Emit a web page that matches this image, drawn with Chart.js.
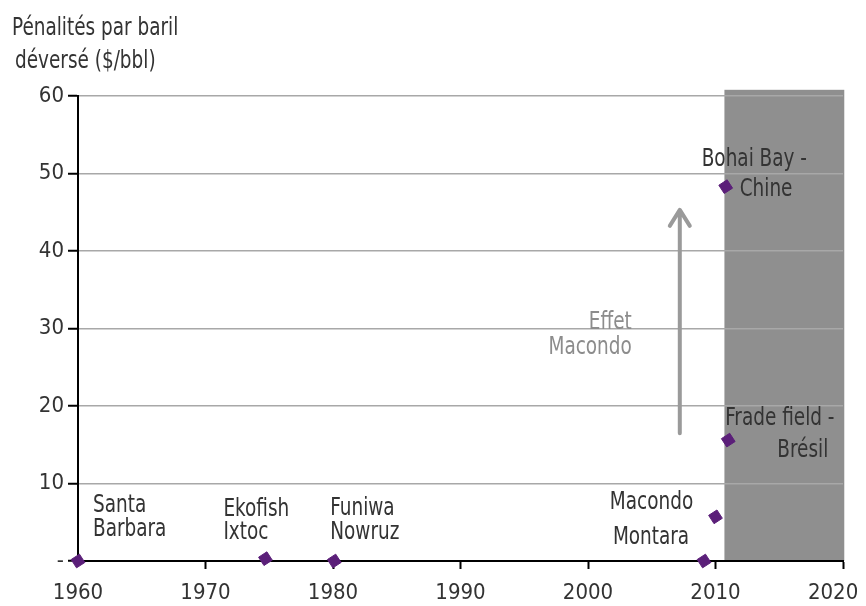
<!DOCTYPE html>
<html>
<head>
<meta charset="utf-8">
<title>Pénalités par baril déversé</title>
<script src="https://cdn.jsdelivr.net/npm/chart.js@4/dist/chart.umd.min.js"></script>
<style>
  html, body { margin: 0; padding: 0; background: #fff; }
  canvas { display: block; }
</style>
</head>
<body>
<canvas id="penalty" width="866" height="606"></canvas>
<script>
// spills and the penalty paid per barrel spilled ($/bbl)
var spills    = ['Santa Barbara', 'Ekofish / Ixtoc', 'Funiwa / Nowruz', 'Montara', 'Macondo', 'Frade field - Brésil', 'Bohai Bay - Chine'];
var years     = [1960, 1974.7, 1980.1, 2009.1, 2010, 2011, 2010.8];
var penalties = [0, 0.3, 0, 0, 5.7, 15.6, 48.3];

var xTicks = [1960, 1970, 1980, 1990, 2000, 2010, 2020];
var yTicks = [0, 10, 20, 30, 40, 50, 60];

// post-Macondo period and the "Effet Macondo" arrow
var shadeFrom = 2010.7, shadeTo = 2020.1, shadeTop = 60.8;
var effetYear = 2007.2, effetFrom = 16.5, effetTo = 45.3;

var titleLines = ['Pénalités par baril', 'déversé ($/bbl)'];
var effetLines = ['Effet', 'Macondo'];

var FONT = '"DejaVu Sans Condensed", "DejaVu Sans", sans-serif';
var TEXT = '#333333';
var SQUEEZE = 0.82;   // horizontal squeeze for the free text, narrow-face look

// where each spill's name sits around its marker
var labelLayout = [
  [{ t: 'Santa', dx: 15, dy: -56, a: 'left' }, { t: 'Barbara', dx: 15, dy: -32, a: 'left' }],
  [{ t: 'Ekofish', dx: -42, dy: -49, a: 'left' }, { t: 'Ixtoc', dx: -42, dy: -26, a: 'left' }],
  [{ t: 'Funiwa', dx: -4, dy: -53, a: 'left' }, { t: 'Nowruz', dx: -4, dy: -29, a: 'left' }],
  [{ t: 'Montara', dx: -53, dy: -24, a: 'center' }],
  [{ t: 'Macondo', dx: -64, dy: -14, a: 'center' }],
  [{ t: 'Frade field -', dx: -3, dy: -22, a: 'left' }, { t: 'Brésil', dx: 100, dy: 10, a: 'right' }],
  [{ t: 'Bohai Bay -', dx: -24, dy: -27, a: 'left' }, { t: 'Chine', dx: 14, dy: 3, a: 'left' }]
];

function narrowText(ctx, s, x, y, align) {
  ctx.save();
  ctx.translate(x, y);
  ctx.scale(SQUEEZE, 1);
  ctx.textAlign = align;
  ctx.fillText(s, 0, 0);
  ctx.restore();
}

var decor = {
  id: 'decor',
  beforeDraw: function (chart) {
    var ctx = chart.ctx, x = chart.scales.x, y = chart.scales.y;
    var l = x.getPixelForValue(shadeFrom), r = x.getPixelForValue(shadeTo);
    var t = y.getPixelForValue(shadeTop), b = y.getPixelForValue(0);
    ctx.save();
    ctx.fillStyle = '#8f8f8f';
    ctx.fillRect(l, t, r - l, b - t);
    ctx.restore();
  },
  beforeDatasetsDraw: function (chart) {
    var ctx = chart.ctx, x = chart.scales.x, y = chart.scales.y;
    var ax = x.getPixelForValue(effetYear);
    var y0 = y.getPixelForValue(effetFrom), y1 = y.getPixelForValue(effetTo);
    ctx.save();
    ctx.strokeStyle = '#9a9a9a';
    ctx.lineWidth = 4;
    ctx.lineCap = 'round';
    ctx.lineJoin = 'round';
    ctx.beginPath();
    ctx.moveTo(ax, y0);
    ctx.lineTo(ax, y1);
    ctx.moveTo(ax - 10, y1 + 16);
    ctx.lineTo(ax, y1);
    ctx.lineTo(ax + 10, y1 + 16);
    ctx.stroke();

    ctx.font = '25px ' + FONT;
    ctx.fillStyle = '#8c8c8c';
    ctx.textBaseline = 'middle';
    var my = y.getPixelForValue(30);
    narrowText(ctx, effetLines[0], ax - 48, my - 6, 'right');
    narrowText(ctx, effetLines[1], ax - 48, my + 19, 'right');
    ctx.restore();
  },
  afterDatasetsDraw: function (chart) {
    var ctx = chart.ctx;
    var pts = chart.getDatasetMeta(0).data;
    ctx.save();
    ctx.font = '25px ' + FONT;
    ctx.fillStyle = TEXT;
    ctx.textBaseline = 'middle';
    labelLayout.forEach(function (lines, i) {
      var p = pts[i];
      lines.forEach(function (ln) {
        narrowText(ctx, ln.t, p.x + ln.dx, p.y + ln.dy, ln.a);
      });
    });

    ctx.textBaseline = 'alphabetic';
    narrowText(ctx, titleLines[0], 12, 35, 'left');
    narrowText(ctx, titleLines[1], 15, 68, 'left');
    ctx.restore();
  }
};

new Chart(document.getElementById('penalty').getContext('2d'), {
  type: 'scatter',
  data: {
    datasets: [{
      label: 'Pénalités',
      data: years.map(function (yr, i) { return { x: yr, y: penalties[i] }; }),
      pointStyle: 'rectRot',
      pointRadius: 7,
      pointRotation: 12,
      backgroundColor: '#5b1f79',
      borderColor: '#5b1f79',
      borderWidth: 1,
      clip: false
    }]
  },
  options: {
    responsive: false,
    animation: false,
    layout: { padding: { top: 96, right: 23, left: 0, bottom: 0 } },
    plugins: {
      legend: { display: false },
      title: { display: false },
      tooltip: { enabled: false }
    },
    scales: {
      x: {
        type: 'linear',
        min: 1960,
        max: 2020,
        afterBuildTicks: function (s) { s.ticks = xTicks.map(function (v) { return { value: v }; }); },
        afterFit: function (s) {
          s.height = 45;
          // the 2020 label may run into the right margin
          s.paddingLeft = 0;
          s.paddingRight = 0;
        },
        ticks: {
          font: { family: FONT, size: 22 },
          color: TEXT,
          padding: 11,
          maxRotation: 0,
          autoSkip: false,
          // last label nudged left so it stays inside the canvas
          callback: function (v) { return v === xTicks[xTicks.length - 1] ? v + '\u2003' : String(v); }
        },
        grid: {
          drawOnChartArea: false,
          tickLength: 8,
          tickWidth: 2,
          tickColor: function (c) { return c.tick && c.tick.value === 1960 ? 'rgba(0,0,0,0)' : '#000'; }
        },
        border: { color: '#000', width: 2 }
      },
      y: {
        min: 0,
        max: 60,
        afterBuildTicks: function (s) { s.ticks = yTicks.map(function (v) { return { value: v }; }); },
        afterFit: function (s) { s.width = 78; },
        ticks: {
          font: { family: FONT, size: 22 },
          color: TEXT,
          padding: 4,
          callback: function (v) { return v === 0 ? '-' : String(v); }
        },
        grid: {
          color: '#a8a8a8',
          lineWidth: 1.5,
          tickLength: 10,
          tickWidth: 2,
          tickColor: '#000'
        },
        border: { color: '#000', width: 2 }
      }
    }
  },
  plugins: [decor]
});
</script>
</body>
</html>
